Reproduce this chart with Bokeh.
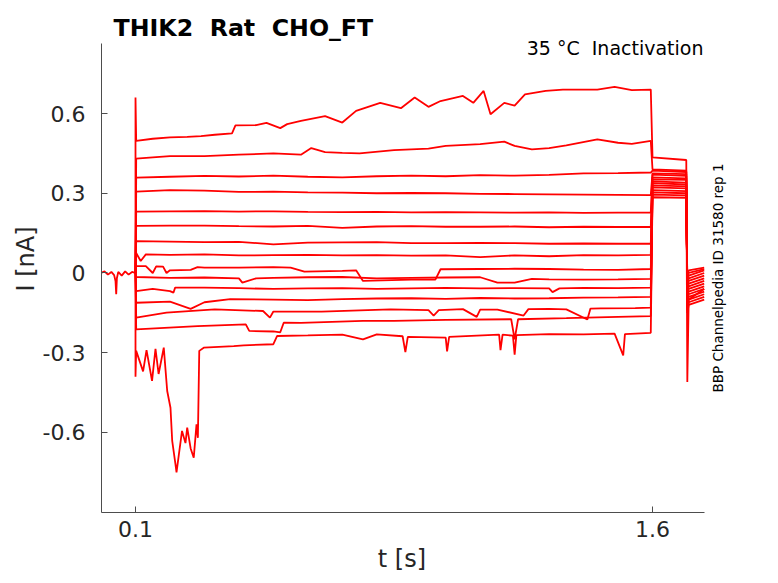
from math import pi
from bokeh.plotting import figure
from bokeh.models import FixedTicker, Label, Range1d
from bokeh.embed import file_html
from bokeh.resources import INLINE

# ---------------- data ----------------
baseline_t = [0.0, 0.01, 0.02, 0.03, 0.038, 0.042, 0.044, 0.046, 0.05, 0.06, 0.07, 0.08, 0.09, 0.0995]
baseline_i = [0.0, 0.006, -0.006, 0.004, -0.008, -0.03, -0.08, -0.02, 0.004, -0.01, 0.006, -0.006, 0.004, 0.0]

A_t = [0.1, 0.1, 0.102, 0.15, 0.2, 0.25, 0.29, 0.33, 0.38, 0.39, 0.45, 0.48, 0.52, 0.54, 0.58, 0.65, 0.70,
       0.74, 0.81, 0.87, 0.91, 0.95, 0.985, 1.05, 1.08, 1.11, 1.13, 1.17, 1.20, 1.23, 1.29, 1.34, 1.44,
       1.49, 1.54, 1.595]
A_i = [0.0, 0.66, 0.497, 0.505, 0.51, 0.512, 0.515, 0.52, 0.525, 0.555, 0.556, 0.565, 0.545, 0.56, 0.572,
       0.59, 0.566, 0.61, 0.64, 0.62, 0.66, 0.625, 0.647, 0.666, 0.64, 0.685, 0.597, 0.64, 0.63, 0.672,
       0.685, 0.69, 0.69, 0.70, 0.688, 0.69]

B_t = [0.1, 0.102, 0.15, 0.2, 0.3, 0.4, 0.5, 0.58, 0.61, 0.65, 0.7, 0.75, 0.85, 0.95, 1.0, 1.1, 1.17,
       1.2, 1.25, 1.3, 1.35, 1.44, 1.5, 1.54, 1.595]
B_i = [0.0, 0.43, 0.435, 0.44, 0.44, 0.445, 0.45, 0.445, 0.47, 0.455, 0.452, 0.45, 0.462, 0.468, 0.478,
       0.485, 0.494, 0.478, 0.465, 0.47, 0.48, 0.503, 0.49, 0.486, 0.497]

grid_t = [0.1, 0.102, 0.2, 0.3, 0.4, 0.5, 0.6, 0.7, 0.8, 0.9, 1.0, 1.1, 1.2, 1.3, 1.4, 1.5, 1.595]
C_i = [0.0, 0.359, 0.362, 0.365, 0.363, 0.366, 0.362, 0.36, 0.364, 0.366, 0.364, 0.368, 0.366, 0.369, 0.375, 0.376, 0.378]
D_i = [0.0, 0.306, 0.312, 0.31, 0.305, 0.306, 0.303, 0.302, 0.30, 0.301, 0.3, 0.298, 0.297, 0.296, 0.295, 0.294, 0.293]
E_i = [0.0, 0.231, 0.232, 0.233, 0.231, 0.232, 0.23, 0.229, 0.23, 0.228, 0.229, 0.228, 0.227, 0.228, 0.226, 0.227, 0.227]
F_i = [0.0, 0.177, 0.178, 0.178, 0.176, 0.175, 0.177, 0.17, 0.175, 0.176, 0.174, 0.174, 0.175, 0.172, 0.174, 0.173, 0.173]
G_i = [0.0, 0.12, 0.118, 0.116, 0.117, 0.108, 0.114, 0.115, 0.116, 0.112, 0.112, 0.113, 0.112, 0.11, 0.111, 0.11, 0.11]

H_t = [0.1, 0.102, 0.115, 0.13, 0.2, 0.3, 0.4, 0.5, 0.6, 0.7, 0.8, 0.9, 1.0, 1.1, 1.2, 1.3, 1.4, 1.5, 1.595]
H_i = [0.0, 0.075, 0.045, 0.07, 0.068, 0.07, 0.066, 0.067, 0.068, 0.066, 0.067, 0.065, 0.066, 0.06, 0.066,
       0.063, 0.067, 0.066, 0.068]

I_t = [0.1, 0.102, 0.13, 0.15, 0.16, 0.18, 0.19, 0.2, 0.26, 0.28, 0.3, 0.4, 0.5, 0.55, 0.59, 0.7, 0.74,
       0.76, 0.9, 0.97, 0.985, 1.1, 1.2, 1.3, 1.4, 1.5, 1.595]
I_i = [0.0, 0.026, 0.026, 0.0, 0.025, 0.024, 0.0, 0.01, 0.012, 0.022, 0.02, 0.02, 0.022, 0.02, 0.005,
       0.008, 0.01, -0.03, -0.025, -0.025, 0.014, 0.015, 0.016, 0.015, 0.013, 0.012, 0.015]

J_t = [0.1, 0.102, 0.2, 0.3, 0.4, 0.41, 0.45, 0.5, 0.6, 0.7, 0.8, 0.9, 1.0, 1.1, 1.15, 1.2, 1.25, 1.3,
       1.4, 1.5, 1.595]
J_i = [0.0, -0.015, -0.018, -0.017, -0.02, -0.036, -0.02, -0.018, -0.016, -0.015, -0.02, -0.018, -0.017,
       -0.016, -0.036, -0.036, -0.022, -0.024, -0.025, -0.024, -0.022]

K_t = [0.1, 0.102, 0.15, 0.2, 0.21, 0.215, 0.3, 0.4, 0.5, 0.6, 0.7, 0.8, 0.9, 1.0, 1.1, 1.2, 1.3, 1.31,
       1.33, 1.4, 1.5, 1.595]
K_i = [0.0, -0.068, -0.06, -0.068, -0.074, -0.055, -0.055, -0.057, -0.06, -0.058, -0.057, -0.06, -0.058,
       -0.056, -0.058, -0.057, -0.058, -0.072, -0.058, -0.056, -0.057, -0.055]

L_t = [0.1, 0.102, 0.2, 0.26, 0.3, 0.375, 0.5, 0.6, 0.7, 0.8, 0.9, 1.0, 1.1, 1.2, 1.3, 1.4, 1.5, 1.595]
L_i = [0.0, -0.112, -0.108, -0.135, -0.11, -0.098, -0.1, -0.102, -0.098, -0.096, -0.095, -0.097, -0.094,
       -0.096, -0.095, -0.093, -0.092, -0.09]

M_t = [0.1, 0.102, 0.19, 0.33, 0.47, 0.49, 0.5, 0.64, 0.84, 0.95, 0.965, 0.98, 1.05, 1.09, 1.1, 1.15,
       1.226, 1.24, 1.3, 1.35, 1.411, 1.42, 1.45, 1.55, 1.595]
M_i = [0.0, -0.168, -0.149, -0.137, -0.143, -0.168, -0.145, -0.145, -0.137, -0.14, -0.16, -0.14, -0.136,
       -0.165, -0.138, -0.138, -0.16, -0.136, -0.135, -0.137, -0.175, -0.134, -0.133, -0.132, -0.13]

N_t = [0.1, 0.102, 0.28, 0.42, 0.43, 0.5, 0.52, 0.53, 0.58, 0.76, 0.85, 1.0, 1.19, 1.2, 1.21, 1.35, 1.5, 1.595]
N_i = [0.0, -0.212, -0.2, -0.193, -0.218, -0.22, -0.223, -0.187, -0.188, -0.18, -0.18, -0.176, -0.174,
       -0.25, -0.174, -0.17, -0.165, -0.162]

O_t = [0.1, 0.1, 0.102, 0.122, 0.132, 0.148, 0.158, 0.167, 0.182, 0.192, 0.2015, 0.2065, 0.216, 0.219,
       0.2256, 0.235, 0.245, 0.25, 0.26, 0.269, 0.277, 0.281, 0.285, 0.298, 0.385, 0.414, 0.5, 0.511, 0.6,
       0.7, 0.76, 0.8, 0.875, 0.883, 0.89, 1.0, 1.004, 1.01, 1.155, 1.159, 1.165, 1.195, 1.2, 1.205, 1.3,
       1.4, 1.49, 1.515, 1.52, 1.595]
O_i = [0.0, -0.39, -0.293, -0.37, -0.29, -0.406, -0.285, -0.38, -0.281, -0.444, -0.507, -0.632, -0.72,
       -0.75, -0.685, -0.594, -0.64, -0.582, -0.66, -0.695, -0.569, -0.62, -0.293, -0.281, -0.275, -0.272,
       -0.268, -0.237, -0.235, -0.232, -0.25, -0.231, -0.238, -0.298, -0.24, -0.243, -0.295, -0.24, -0.232,
       -0.29, -0.232, -0.236, -0.307, -0.234, -0.23, -0.231, -0.228, -0.31, -0.23, -0.225]

# tail step (1.6 - 1.7 s) and final segment (1.7 - 1.75 s), per sweep A..O
tail_start = [0.435, 0.39, 0.385, 0.375, 0.37, 0.36, 0.352, 0.345, 0.338, 0.33, 0.322, 0.312, 0.303, 0.295, 0.285]
tail_end = [0.425, 0.385, 0.38, 0.372, 0.365, 0.356, 0.35, 0.34, 0.333, 0.326, 0.318, 0.308, 0.3, 0.292, 0.283]
final_start = [-0.41, -0.15, -0.14, -0.13, -0.12, -0.11, -0.1, -0.09, -0.08, -0.07, -0.06, -0.05, -0.04, -0.03, -0.02]
final_mid = [-0.1, -0.12, -0.11, -0.1, -0.09, -0.08, -0.07, -0.06, -0.05, -0.04, -0.03, -0.02, -0.01, 0.0, 0.01]
final_end = [-0.06, -0.1, -0.09, -0.08, -0.07, -0.06, -0.05, -0.04, -0.03, -0.02, -0.01, 0.0, 0.01, 0.015, 0.02]
t_tail = [1.6, 1.698, 1.701, 1.705, 1.75]

x_ticks = [0.1, 1.6]
y_ticks = [-0.6, -0.3, 0.0, 0.3, 0.6]
y_tick_labels = {-0.6: "-0.6", -0.3: "-0.3", 0.0: "0", 0.3: "0.3", 0.6: "0.6"}
x_tick_labels = {0.1: "0.1", 1.6: "1.6"}

title_text = "THIK2 \u00a0Rat \u00a0CHO_FT"
cond_text = "35 °C \u00a0Inactivation"
side_text = "BBP Channelpedia ID 31580 rep 1"
x_label = "t [s]" + "\u00a0" * 5   # trailing no-break spaces centre the label under the axis line
y_label = "I [nA]"

# axis extents (data units)
t_min, t_max = 0.00135, 1.75
i_min, i_max = -0.901, 0.8633

# ---------------- figure ----------------
p = figure(width=760, height=580, output_backend="svg", toolbar_location=None,
           x_range=Range1d(t_min, 1.8553), y_range=Range1d(i_min, 1.0063),
           min_border_left=101, min_border_right=20, min_border_top=5, min_border_bottom=68)
p.outline_line_color = None
p.grid.visible = False
p.background_fill_color = "white"
p.border_fill_color = "white"

red = "#ff0000"
lw = 1.8
p.line(baseline_t, baseline_i, color=red, line_width=lw)

sweeps = [(A_t, A_i), (B_t, B_i), (grid_t, C_i), (grid_t, D_i), (grid_t, E_i), (grid_t, F_i),
          (grid_t, G_i), (H_t, H_i), (I_t, I_i), (J_t, J_i), (K_t, K_i), (L_t, L_i), (M_t, M_i),
          (N_t, N_i), (O_t, O_i)]
for k, (ts, vs) in enumerate(sweeps):
    tt = list(ts) + t_tail
    vv = list(vs) + [tail_start[k], tail_end[k], final_start[k], final_mid[k], final_end[k]]
    p.line(tt, vv, color=red, line_width=lw)

for ax in (p.xaxis, p.yaxis):
    ax.axis_line_color = "#4d4d4d"
    ax.major_tick_line_color = "#4d4d4d"
    ax.major_tick_in = 6
    ax.major_tick_out = 0
    ax.minor_tick_line_color = None
    ax.major_label_text_font = "DejaVu Sans"
    ax.major_label_text_font_size = "22px"
    ax.major_label_text_color = "#262626"
    ax.axis_label_text_font = "DejaVu Sans"
    ax.axis_label_text_font_size = "24px"
    ax.axis_label_text_font_style = "normal"
    ax.axis_label_text_color = "#262626"

p.xaxis.ticker = FixedTicker(ticks=x_ticks)
p.xaxis.major_label_overrides = x_tick_labels
p.xaxis.major_label_standoff = 8
p.xaxis.axis_label = x_label
p.xaxis.axis_label_standoff = 5
p.xaxis.bounds = (t_min, t_max)

p.yaxis.ticker = FixedTicker(ticks=y_ticks)
p.yaxis.major_label_overrides = y_tick_labels
p.yaxis.major_label_standoff = 16
p.yaxis.axis_label = y_label
p.yaxis.axis_label_standoff = 0
p.yaxis.bounds = (i_min, i_max)

p.add_layout(Label(x=0.0362, y=0.9217, text=title_text, text_align="left", text_baseline="alphabetic",
                   text_font="DejaVu Sans", text_font_style="bold", text_font_size="23.7px",
                   text_color="black"))
p.add_layout(Label(x=1.748, y=0.8464, text=cond_text, text_align="right", text_baseline="alphabetic",
                   text_font="DejaVu Sans", text_font_size="19px", text_color="black"))
p.add_layout(Label(x=1.7886, y=-0.0188, text=side_text, angle=pi / 2, text_align="center",
                   text_baseline="middle", text_font="DejaVu Sans", text_font_size="13.5px",
                   text_color="black"))

open("out.html", "w").write(file_html(p, INLINE))
